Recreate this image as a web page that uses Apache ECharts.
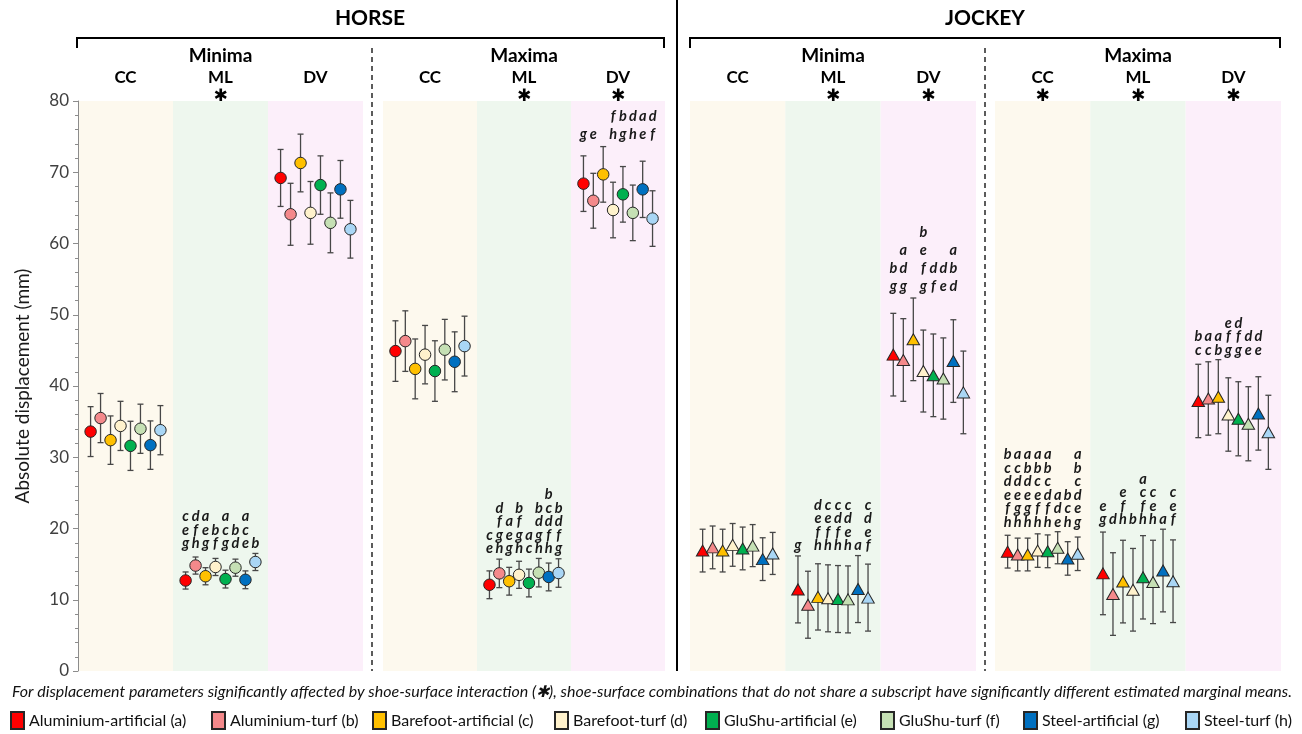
<!DOCTYPE html>
<html><head><meta charset="utf-8">
<script src="https://cdn.jsdelivr.net/npm/echarts@6/dist/echarts.min.js"></script>
<style>html,body{margin:0;padding:0;background:#fff}#c{width:1302px;height:734px}</style>
</head><body><div id="c"></div>
<script>
// ---------------- DATA ----------------
const surfaces = ['Aluminium-artificial (a)','Aluminium-turf (b)','Barefoot-artificial (c)','Barefoot-turf (d)',
  'GluShu-artificial (e)','GluShu-turf (f)','Steel-artificial (g)','Steel-turf (h)'];
const directions = ['CC','ML','DV'];
const subjects = ['HORSE','JOCKEY'];
const extremes = ['Minima','Maxima','Minima','Maxima'];
const yTickValues = [0,10,20,30,40,50,60,70,80];
const yTitle = 'Absolute displacement (mm)';
const caption = 'For displacement parameters significantly affected by shoe-surface interaction (\u2731), shoe-surface combinations that do not share a subscript have significantly different estimated marginal means.';

// means per direction [CC, ML, DV] x 8 surfaces
const horseMinMean = [
  [33.6, 35.5, 32.4, 34.4, 31.6, 34.0, 31.7, 33.8],
  [12.7, 14.8, 13.3, 14.6, 12.9, 14.5, 12.8, 15.3],
  [69.2, 64.1, 71.3, 64.3, 68.2, 62.9, 67.6, 62.0]];
const horseMinErr = [
  [3.5, 3.45, 3.4, 3.45, 3.45, 3.45, 3.4, 3.45],
  [1.2, 1.2, 1.2, 1.2, 1.25, 1.2, 1.25, 1.2],
  [4.0, 4.35, 4.05, 4.4, 4.1, 4.2, 4.05, 4.05]];
const horseMaxMean = [
  [44.9, 46.3, 42.4, 44.4, 42.1, 45.1, 43.4, 45.6],
  [12.1, 13.7, 12.6, 13.5, 12.35, 13.8, 13.2, 13.75],
  [68.4, 66.0, 69.7, 64.7, 66.9, 64.3, 67.6, 63.5]];
const horseMaxErr = [
  [4.25, 4.25, 4.2, 4.1, 4.25, 4.25, 4.2, 4.2],
  [1.95, 2.0, 1.95, 1.9, 1.95, 2.0, 1.95, 2.0],
  [3.9, 3.85, 3.9, 3.9, 3.9, 3.9, 3.95, 3.9]];
const jockeyMinMean = [
  [16.9, 17.35, 16.9, 17.7, 17.2, 17.6, 15.7, 16.5],
  [11.45, 9.3, 10.4, 10.2, 10.1, 10.05, 11.5, 10.3],
  [44.4, 43.65, 46.55, 42.1, 41.5, 41.05, 43.5, 39.1]];
const jockeyMinErr = [
  [3.0, 3.0, 3.0, 3.0, 3.0, 2.95, 3.0, 2.95],
  [4.7, 4.7, 4.65, 4.7, 4.7, 4.7, 4.7, 4.7],
  [5.8, 5.8, 5.8, 5.75, 5.8, 5.7, 5.8, 5.8]];
const jockeyMaxMean = [
  [16.75, 16.35, 16.35, 16.9, 16.8, 17.3, 15.8, 16.45],
  [13.7, 10.8, 12.55, 11.4, 13.15, 12.5, 14.1, 12.6],
  [37.9, 38.25, 38.5, 36.0, 35.4, 34.7, 36.15, 33.5]];
const jockeyMaxErr = [
  [2.3, 2.3, 2.3, 2.35, 2.3, 2.25, 2.35, 2.35],
  [5.8, 5.8, 5.8, 5.8, 5.85, 5.85, 5.8, 5.8],
  [5.15, 5.15, 5.2, 5.15, 5.2, 5.2, 5.15, 5.2]];

// significance subscripts
const E8 = ['','','','','','','',''];
const horseMinLetters = [E8, ['ceg','dfh','aeg','bf','acg','bd','ace','b'], E8];
const horseMaxLetters = [E8, ['ce','dfgh','aeg','bfgh','ac','bdgh','bcdfh','bdfg'], ['g','e','','fh','bg','dh','ae','df']];
const jockeyMinLetters = [E8, ['g','','defh','cefh','cdfh','cdeh','a','cdef'], ['bg','adg','','befg','df','de','abd','']];
const jockeyMaxLetters = [['bcdefh','acdegh','abdegh','abcefh','abcdfh','ade','bch','abcdeg'],
  ['eg','d','efh','b','acfh','ceh','a','cef'], ['bc','ac','ab','efg','dfg','de','de','']];
// shoe-surface interaction significant (asterisk) per panel x direction
const interaction = [[0,1,0],[0,1,1],[0,1,1],[1,1,1]];

// ---------------- STYLE / LAYOUT ----------------
const FONT = 'Lato, "Liberation Sans", sans-serif';
const colors = ['#FF0000','#F4898B','#FFC000','#FFF2CC','#00B050','#C5E0B4','#0070C0','#A9D6F5'];
const bandColors = ['#FDF9EE','#EEF7EE','#FCEFFA'];
const grids = [{left:78,width:285},{left:383,width:282},{left:690,width:286},{left:995,width:286}];
const GRID_TOP = 101, GRID_BOTTOM = 63;
const SP = 0.105;
const letterLH = [[13.5,13.5,13.5],[13.5,13.5,18],[13.5,13.5,18],[13.5,13.5,13.5]];
const legendLeft = [10, 211, 372, 554, 705, 880, 1023, 1185];
const panels = [
  {mean:horseMinMean, err:horseMinErr, letters:horseMinLetters, symbol:'circle', size:11.5},
  {mean:horseMaxMean, err:horseMaxErr, letters:horseMaxLetters, symbol:'circle', size:11.5},
  {mean:jockeyMinMean, err:jockeyMinErr, letters:jockeyMinLetters, symbol:'triangle', size:[12.5,11]},
  {mean:jockeyMaxMean, err:jockeyMaxErr, letters:jockeyMaxLetters, symbol:'triangle', size:[12.5,11]}];

const chart = echarts.init(document.getElementById('c'));
const series = [];
panels.forEach((P, p) => {
  // background bands
  series.push({type:'custom', xAxisIndex:p, yAxisIndex:p, silent:true, z:0,
    data: directions.map((d,k)=>[k,0]),
    renderItem:(params, api) => {
      const k = params.dataIndex;
      const a = api.coord([k-0.5, 80]), b = api.coord([k+0.5, 0]);
      return {type:'rect', shape:{x:a[0], y:a[1], width:b[0]-a[0], height:b[1]-a[1]}, style:{fill:bandColors[k]}};
    }});
  // error bars
  const eb = [];
  directions.forEach((d,k)=>{ for (let s=0;s<8;s++) eb.push([k+(s-3.5)*SP, P.mean[k][s]-P.err[k][s], P.mean[k][s]+P.err[k][s]]); });
  series.push({type:'custom', xAxisIndex:p, yAxisIndex:p, silent:true, z:2, data:eb,
    renderItem:(params, api) => {
      const x = api.value(0);
      const a = api.coord([x, api.value(2)]), b = api.coord([x, api.value(1)]);
      const st = {stroke:'#474747', lineWidth:1.3};
      return {type:'group', children:[
        {type:'line', shape:{x1:a[0], y1:a[1], x2:b[0], y2:b[1]}, style:st},
        {type:'line', shape:{x1:a[0]-3, y1:a[1], x2:a[0]+3, y2:a[1]}, style:st},
        {type:'line', shape:{x1:b[0]-3, y1:b[1], x2:b[0]+3, y2:b[1]}, style:st}]};
    }});
  // points
  for (let s=0;s<8;s++) {
    series.push({type:'scatter', name:surfaces[s], xAxisIndex:p, yAxisIndex:p, z:3,
      symbol:P.symbol, symbolSize:P.size,
      itemStyle:{color:colors[s], borderColor:'#262626', borderWidth:1, opacity:1},
      data: directions.map((d,k)=>[k+(s-3.5)*SP, P.mean[k][s]])});
  }
  // subscripts
  const lt = [], txt = [], lh = [];
  directions.forEach((d,k)=>{
    let top = 0;
    for (let s=0;s<8;s++) top = Math.max(top, P.mean[k][s]+P.err[k][s]);
    for (let s=0;s<8;s++) if (P.letters[k][s]) { lt.push([k+(s-3.5)*SP, top]); txt.push(P.letters[k][s].split('').join('\n')); lh.push(letterLH[p][k]); }
  });
  series.push({type:'custom', xAxisIndex:p, yAxisIndex:p, silent:true, z:4, data:lt,
    renderItem:(params, api) => {
      const c = api.coord([api.value(0), api.value(1)]);
      return {type:'text', x:c[0], y:c[1]-3, style:{text:txt[params.dataIndex], align:'center', verticalAlign:'bottom',
        font:'italic bold 14.5px ' + FONT, lineHeight:lh[params.dataIndex], fill:'#1a1a1a'}};
    }});
});

// header graphics
const g = [];
const txtEl = (x,y,t,font,color) => ({type:'text', x, y, z:10, style:{text:t, font, fill:color||'#000', align:'center', verticalAlign:'middle'}});
g.push(txtEl(370, 18, subjects[0], 'bold 21px ' + FONT));
g.push(txtEl(985, 18, subjects[1], 'bold 21px ' + FONT));
g.push({type:'polyline', z:10, shape:{points:[[77,48],[77,38],[664,38],[664,48]]}, style:{stroke:'#000', lineWidth:2, fill:null}});
g.push({type:'polyline', z:10, shape:{points:[[690,48],[690,38],[1280,38],[1280,48]]}, style:{stroke:'#000', lineWidth:2, fill:null}});
g.push({type:'line', z:10, shape:{x1:677, y1:0, x2:677, y2:671}, style:{stroke:'#000', lineWidth:2}});
g.push({type:'line', z:10, shape:{x1:372, y1:48, x2:372, y2:671}, style:{stroke:'#333', lineWidth:1.6, lineDash:[5,4]}});
g.push({type:'line', z:10, shape:{x1:985, y1:48, x2:985, y2:671}, style:{stroke:'#333', lineWidth:1.6, lineDash:[5,4]}});
grids.forEach((gr, p) => {
  g.push(txtEl(gr.left + gr.width/2, 56, extremes[p], 'bold 19px ' + FONT));
  directions.forEach((d,k) => {
    const cx = gr.left + gr.width*(k+0.5)/3;
    g.push(txtEl(cx, 78, d, 'bold 17px ' + FONT));
    if (interaction[p][k]) g.push(txtEl(cx, 97, '\u2731', 'bold 17px "DejaVu Sans"'));
  });
});
g.push({type:'text', x:12, y:692, z:10, style:{text:caption, font:'italic 16px ' + FONT, fill:'#111', align:'left', verticalAlign:'middle'}});

chart.setOption({
  animation:false,
  backgroundColor:'#ffffff',
  grid: grids.map(gr => ({left:gr.left, width:gr.width, top:GRID_TOP, bottom:GRID_BOTTOM, containLabel:false})),
  xAxis: grids.map((gr,i) => ({type:'value', gridIndex:i, min:-0.5, max:2.5, show:false})),
  yAxis: grids.map((gr,i) => ({type:'value', gridIndex:i, min:yTickValues[0], max:yTickValues[yTickValues.length-1], interval:10, show:i===0,
    position:'left',
    axisLine:{show:true, onZero:false, lineStyle:{color:'#8c8c8c', width:1}},
    axisTick:{show:true, length:5, lineStyle:{color:'#8c8c8c'}},
    minorTick:{show:true, splitNumber:5, length:3, lineStyle:{color:'#8c8c8c'}},
    splitLine:{show:false},
    axisLabel:{fontSize:17, color:'#404040', fontFamily:FONT, margin:9},
    name: i===0 ? yTitle : '', nameLocation:'middle', nameGap:46, nameRotate:90,
    nameTextStyle:{fontSize:19, color:'#1a1a1a', fontFamily:FONT}})),
  legend: surfaces.map((s,i) => ({data:[s], left:legendLeft[i], top:711, padding:0, icon:'rect', itemWidth:13, itemHeight:17,
    selectedMode:false, textStyle:{fontFamily:FONT, fontSize:16, color:'#111'}})),
  graphic: g,
  series
});
</script></body></html>
